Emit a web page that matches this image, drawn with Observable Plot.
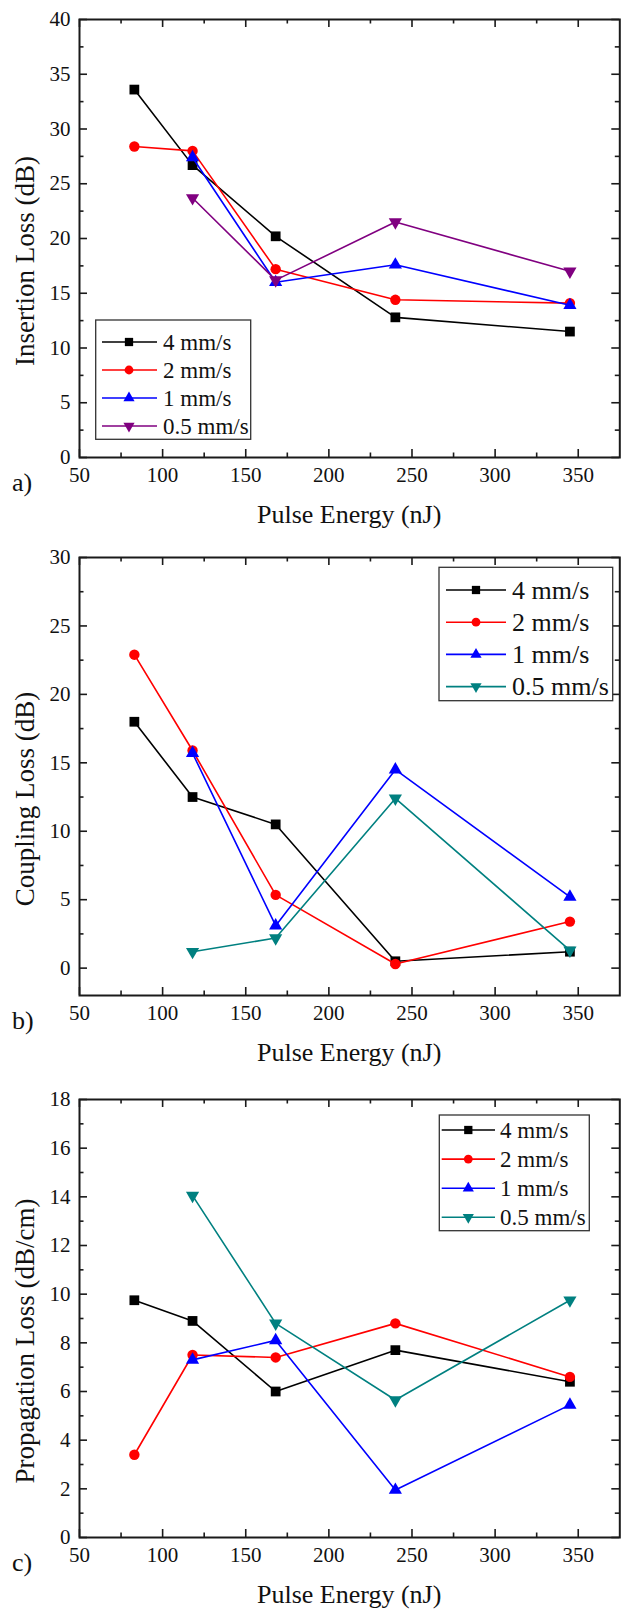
<!DOCTYPE html>
<html>
<head>
<meta charset="utf-8">
<script src="https://cdn.jsdelivr.net/npm/d3@7"></script>
<script src="https://cdn.jsdelivr.net/npm/@observablehq/plot@0.6"></script>
<style>
  body { margin: 0; background: #fff; }
  #chart svg { display: block; }
</style>
</head>
<body>
<div id="chart"></div>
<script>
// ---------- data ----------
const energy = [83, 118, 168, 240, 345];           // Pulse Energy (nJ)
const seriesNames = ["4 mm/s", "2 mm/s", "1 mm/s", "0.5 mm/s"];

// a) Insertion Loss (dB)
const insertion4  = [33.6, 26.7, 20.2, 12.8, 11.5];
const insertion2  = [28.4, 28.0, 17.2, 14.4, 14.1];
const insertion1  = [null, 27.4, 16.0, 17.6, 13.9];
const insertion05 = [null, 23.7, 16.2, 21.5, 17.0];

// b) Coupling Loss (dB)
const coupling4  = [18.0, 12.5, 10.5, 0.5, 1.2];
const coupling2  = [22.9, 15.9, 5.35, 0.3, 3.4];
const coupling1  = [null, 15.7, 3.1, 14.5, 5.2];
const coupling05 = [null, 1.2, 2.2, 12.4, 1.3];

// c) Propagation Loss (dB/cm)
const propagation4  = [9.75, 8.9, 6.0, 7.7, 6.4];
const propagation2  = [3.4, 7.5, 7.4, 8.8, 6.6];
const propagation1  = [null, 7.3, 8.1, 1.95, 5.45];
const propagation05 = [null, 14.05, 8.8, 5.65, 9.75];

const xTickLabels = [50, 100, 150, 200, 250, 300, 350];
const xMinorTicks = [75, 125, 175, 225, 275, 325];
const yTicksA = [0, 5, 10, 15, 20, 25, 30, 35, 40];
const yMinorA = [2.5, 7.5, 12.5, 17.5, 22.5, 27.5, 32.5, 37.5];
const yTicksB = [0, 5, 10, 15, 20, 25, 30];
const yMinorB = [2.5, 7.5, 12.5, 17.5, 22.5, 27.5];
const yTicksC = [0, 2, 4, 6, 8, 10, 12, 14, 16, 18];
const yMinorC = [1, 3, 5, 7, 9, 11, 13, 15, 17];

// ---------- styles ----------
const colorsA = ["#000000", "#ff0000", "#0000ff", "#800080"];
const colorsBC = ["#000000", "#ff0000", "#0000ff", "#008080"];
const sqrt3 = Math.sqrt(3);
const triangleDown = {
  draw(context, size) {
    const y = -Math.sqrt(size / (sqrt3 * 3));
    context.moveTo(0, -y * 2);
    context.lineTo(-sqrt3 * y, y);
    context.lineTo(sqrt3 * y, y);
    context.closePath();
  }
};
const symbols = ["square", "circle", "triangle", triangleDown];
const d3Symbols = [d3.symbolSquare, d3.symbolCircle, d3.symbolTriangle, triangleDown];
const radii = [5.5, 5.2, 4.9, 4.9];

const W = 627, mL = 79, mR = 7.7, mT = 19, innerH = 438;
const innerW = W - mL - mR;
const FONT = "'Liberation Serif', 'Times New Roman', serif";
const INK = "#1a1a1a";

function panel(cfg) {
  const {series, colors, yDomain, yMajor, yMinor, yLabel, tag, height, legend} = cfg;
  const mB = height - mT - innerH;
  const marks = [];
  series.forEach((arr, s) => {
    const d = [];
    arr.forEach((v, i) => { if (v != null) d.push({x: energy[i], y: v}); });
    marks.push(Plot.line(d, {x: "x", y: "y", stroke: colors[s], strokeWidth: 1.6}));
    marks.push(Plot.dot(d, {x: "x", y: "y", fill: colors[s], stroke: "none", symbol: symbols[s], r: radii[s]}));
  });
  const tk = {stroke: INK, strokeWidth: 1.6};
  marks.push(
    Plot.tickX(xTickLabels, {x: d => d, insetTop: innerH - 8, ...tk}),
    Plot.tickX(xTickLabels, {x: d => d, insetBottom: innerH - 8, ...tk}),
    Plot.tickX(xMinorTicks, {x: d => d, insetTop: innerH - 4.5, ...tk}),
    Plot.tickX(xMinorTicks, {x: d => d, insetBottom: innerH - 4.5, ...tk}),
    Plot.tickY(yMajor, {y: d => d, insetRight: innerW - 8, ...tk}),
    Plot.tickY(yMajor, {y: d => d, insetLeft: innerW - 8, ...tk}),
    Plot.tickY(yMinor, {y: d => d, insetRight: innerW - 4.5, ...tk}),
    Plot.tickY(yMinor, {y: d => d, insetLeft: innerW - 4.5, ...tk}),
    Plot.frame({stroke: INK, strokeWidth: 2}),
    Plot.axisX(xTickLabels, {tickSize: 0, tickPadding: 10, label: null, fontSize: 21, fill: "#111"}),
    Plot.axisY(yMajor, {tickSize: 0, tickPadding: 9, label: null, fontSize: 21, fill: "#111"})
  );
  const svgEl = Plot.plot({
    width: W, height,
    marginLeft: mL, marginRight: mR, marginTop: mT, marginBottom: mB,
    style: {fontFamily: FONT, fontSize: "21px", background: "#fff", color: "#111"},
    x: {domain: [50, 375], label: null},
    y: {domain: yDomain, label: null},
    marks
  });
  const svg = d3.select(svgEl);
  const plotBottom = mT + innerH;
  // y title
  svg.append("text")
    .attr("transform", `translate(25,${mT + innerH / 2 + 23}) rotate(-90)`)
    .attr("text-anchor", "middle").attr("dy", "0.33em")
    .attr("font-family", FONT).attr("font-size", 27)
    .style("font-family", FONT).style("font-size", "27px").attr("fill", "#111")
    .text(yLabel);
  // x title
  svg.append("text")
    .attr("x", mL + innerW / 2).attr("y", plotBottom + 66)
    .attr("text-anchor", "middle")
    .attr("font-family", FONT).attr("font-size", 26)
    .style("font-family", FONT).style("font-size", "26px").attr("fill", "#111")
    .text("Pulse Energy (nJ)");
  // panel tag
  svg.append("text")
    .attr("x", 12).attr("y", plotBottom + 34)
    .attr("text-anchor", "start")
    .attr("font-family", FONT).attr("font-size", 26)
    .style("font-family", FONT).style("font-size", "26px").attr("fill", "#111")
    .text(tag);
  // legend
  const g = svg.append("g");
  g.append("rect")
    .attr("x", legend.box[0]).attr("y", legend.box[1])
    .attr("width", legend.box[2] - legend.box[0]).attr("height", legend.box[3] - legend.box[1])
    .attr("fill", "#fff").attr("stroke", "#333").attr("stroke-width", 1.3);
  seriesNames.forEach((name, s) => {
    const y = legend.row0 + s * legend.step;
    g.append("line").attr("x1", legend.line[0]).attr("x2", legend.line[1])
      .attr("y1", y).attr("y2", y).attr("stroke", colors[s]).attr("stroke-width", 1.6);
    g.append("path")
      .attr("d", d3.symbol(d3Symbols[s], Math.PI * radii[s] * radii[s] * 0.72)())
      .attr("transform", `translate(${legend.marker},${y})`)
      .attr("fill", colors[s]);
    g.append("text").attr("x", legend.text).attr("y", y).attr("dy", "0.33em")
      .attr("text-anchor", "start")
      .attr("font-family", FONT).attr("font-size", legend.font)
      .style("font-family", FONT).style("font-size", legend.font + "px").attr("fill", "#111")
      .text(name);
  });
  return svgEl;
}

const chart = document.getElementById("chart");
chart.appendChild(panel({
  series: [insertion4, insertion2, insertion1, insertion05], colors: colorsA,
  yDomain: [0, 40], yMajor: yTicksA, yMinor: yMinorA, yLabel: "Insertion Loss (dB)", tag: "a)",
  height: 538,
  legend: {box: [95.7, 320, 250.7, 439.3], row0: 342, step: 28, line: [102, 157], marker: 129, text: 163, font: 23}
}));
chart.appendChild(panel({
  series: [coupling4, coupling2, coupling1, coupling05], colors: colorsBC,
  yDomain: [-2, 30], yMajor: yTicksB, yMinor: yMinorB, yLabel: "Coupling Loss (dB)", tag: "b)",
  height: 542,
  legend: {box: [439, 29.3, 612.7, 162.7], row0: 52, step: 32.2, line: [446, 506], marker: 476, text: 512, font: 26}
}));
chart.appendChild(panel({
  series: [propagation4, propagation2, propagation1, propagation05], colors: colorsBC,
  yDomain: [0, 18], yMajor: yTicksC, yMinor: yMinorC, yLabel: "Propagation Loss (dB/cm)", tag: "c)",
  height: 535,
  legend: {box: [439.3, 35, 589.3, 150.7], row0: 50, step: 29.1, line: [441.7, 495], marker: 468.3, text: 500, font: 23}
}));
</script>
</body>
</html>
